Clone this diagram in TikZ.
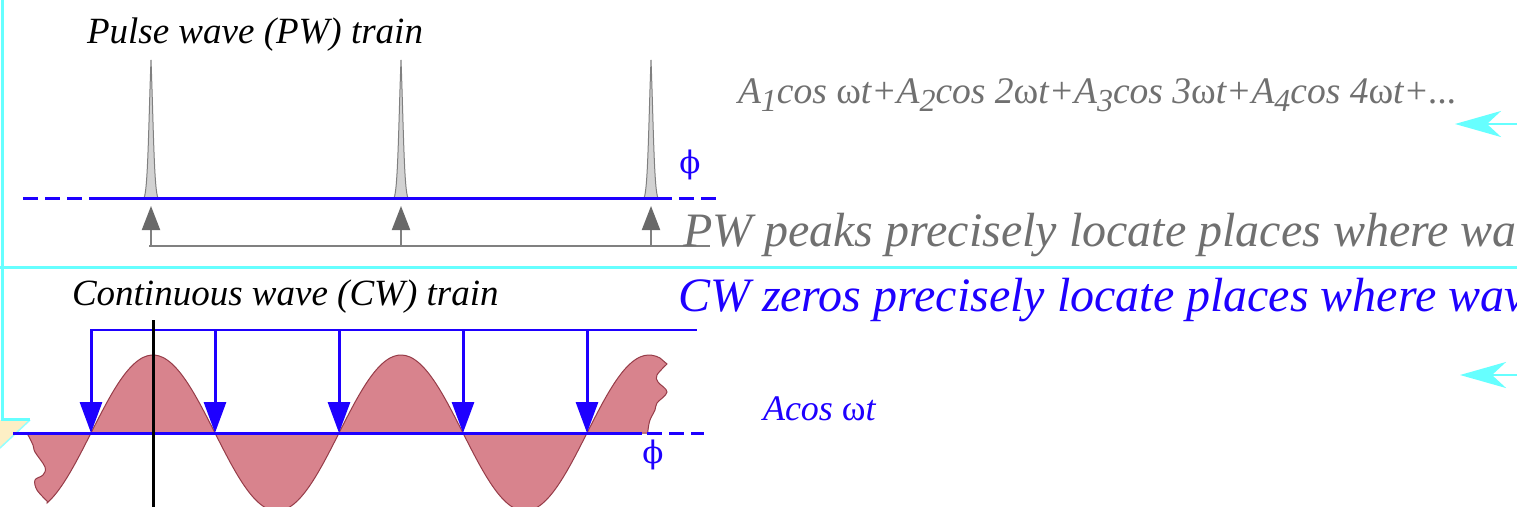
\documentclass[tikz,border=0pt]{standalone}
\usepackage{fontspec}
\setmainfont{Liberation Serif}
\newfontfamily\phifont{DejaVu Serif}
\usetikzlibrary{arrows.meta}
\definecolor{cyanl}{RGB}{102,255,255}
\definecolor{wblue}{RGB}{30,0,255}
\definecolor{tgray}{RGB}{112,112,112}
\definecolor{pfill}{RGB}{210,210,210}
\definecolor{pline}{RGB}{128,128,128}
\definecolor{afill}{RGB}{105,105,105}
\definecolor{wfill}{RGB}{216,131,141}
\definecolor{wline}{RGB}{150,60,72}
\definecolor{beige}{RGB}{253,239,197}
\newcommand{\fsz}[1]{\fontsize{#1}{#1}\selectfont}
\newcommand{\sbs}[1]{\raisebox{-8pt}{\fsz{32}#1}}
\newcommand{\om}{{\upshape ω}}
\begin{document}
\begin{tikzpicture}[x=1pt,y=-1pt,
  lbl/.style={anchor=base west, inner sep=0pt, outer sep=0pt},
  frameline/.style={cyanl, line width=3pt},
  baseln/.style={wblue, line width=3pt},
  dashln/.style={wblue, line width=3pt, dash pattern=on 15pt off 7pt},
  pulse/.style={fill=pfill, draw=pline, line width=1pt},
  uparrow/.style={pline, line width=2pt, -{Triangle[length=24pt,width=18pt,color=afill]}},
  downarrow/.style={wblue, line width=3pt, -{Triangle[length=31pt,width=22pt]}},
  cyanarrow/.style={cyanl, line width=2.5pt, -{Stealth[length=46pt,width=26pt,inset=14pt]}},
  wave/.style={fill=wfill, draw=wline, line width=1pt},
  philbl/.style={wblue, inner sep=0pt, font=\phifont\fsz{31}}]
\clip (0,0) rectangle (1517,506);
\fill[white] (0,0) rectangle (1517,506);

% frame
\fill[beige] (0,420) -- (30,420) -- (0,448) -- cycle;
\draw[cyanl!70, line width=1.5pt] (30,420) -- (0,448);
\draw[frameline] (2.5,0) -- (2.5,419) -- (30,419);
\draw[frameline] (0,267) -- (1517,267);

% ---------- pulse wave ----------
\coordinate (p1) at (151,198);
\coordinate (p2) at (401,198);
\coordinate (p3) at (651,198);
\foreach \p in {p1,p2,p3}{
  \path[pulse] ([xshift=-7pt]\p) .. controls ([xshift=-3pt,yshift=8pt]\p) and ([xshift=-2.4pt,yshift=75pt]\p) .. ([yshift=138pt]\p)
     .. controls ([xshift=2.4pt,yshift=75pt]\p) and ([xshift=3pt,yshift=8pt]\p) .. ([xshift=7pt]\p) -- cycle;
}
\coordinate (tl) at (93,198);
\coordinate (tr) at (657,198);
\draw[baseln] (tl) -- (tr);
\draw[dashln] (23,198) -- (tl);
\draw[dashln] (tr) -- (716,198);

\coordinate (gl) at (149,246);
\coordinate (gr) at (710,246);
\draw[pline, line width=2pt] (gl) -- (gr);
\foreach \p in {p1,p2,p3}{
  \draw[uparrow] (\p |- gl) -- ([yshift=-8pt]\p);
}
\node[philbl] (phi1) at (690,165) {ϕ};

\node[lbl, font=\fsz{37}\itshape] (pwtitle) at (87,43) {Pulse wave (PW) train};
\node[lbl, tgray, font=\fsz{37.5}\itshape] (series) at (738,103)
  {A\sbs{1}cos \om t+A\sbs{2}cos 2\om t+A\sbs{3}cos 3\om t+A\sbs{4}cos 4\om t+...};
\node[lbl, tgray, font=\fsz{48}\itshape] (pwtext) at (683,246) {PW peaks precisely locate places where wa};

% ---------- continuous wave ----------
\node[lbl, font=\fsz{37}\itshape] (cwtitle) at (72,305) {Continuous wave (CW) train};
\node[lbl, wblue, font=\fsz{48}\itshape] (cwtext) at (678,311) {CW zeros precisely locate places where wav};
\node[lbl, wblue, font=\fsz{36}\itshape] (acos) at (763,420) {Acos \om t};

\path[wave] plot[smooth, tension=0.6] coordinates {(27,433) (33,445) (35,452) (45,467) (43,475) (35,480) (37,490) (47,501)}
  -- plot[domain=47:660, samples=160, smooth] (\x, {433-78*cos(1.4516*(\x-153))})
  -- plot[smooth, tension=0.6] coordinates {(667,364) (657,375) (658,382) (667,392) (657,403) (655,410) (650,420) (648,430) (648,433)}
  -- cycle;

\coordinate (bl) at (13,433);
\coordinate (br) at (642,433);
\draw[baseln] (bl) -- (br);
\draw[dashln] (647,433) -- (704,433);

\coordinate (hl) at (90,330);
\coordinate (hr) at (697,330);
\draw[wblue, line width=1.6pt] (hl) -- (hr);
\foreach \zx in {91,215,339,463,587}{
  \coordinate (z) at (\zx,433);
  \draw[downarrow] (z |- hl) -- (z);
}
\coordinate (at) at (153,320);
\coordinate (ab) at (153,508);
\draw[black, line width=3pt] (at) -- (ab);
\node[philbl] (phi2) at (653,455) {ϕ};

% cyan arrows
\coordinate (c1s) at (1525,124);
\coordinate (c1e) at (1455,124);
\coordinate (c2s) at (1525,375);
\coordinate (c2e) at (1460,375);
\draw[cyanarrow] (c1s) -- (c1e);
\draw[cyanarrow] (c2s) -- (c2e);
\end{tikzpicture}
\end{document}
